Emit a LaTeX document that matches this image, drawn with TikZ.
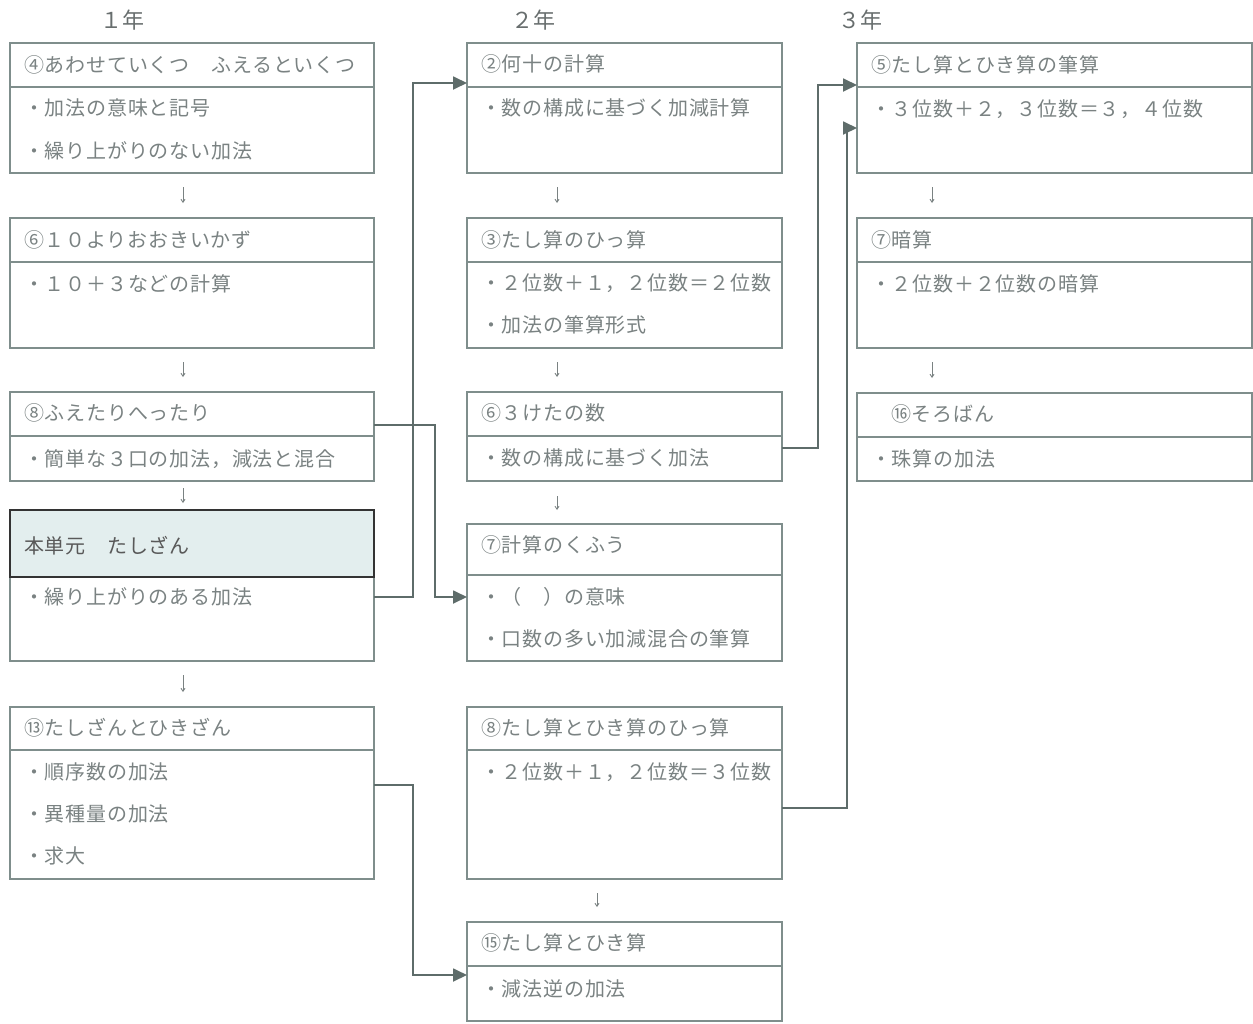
\documentclass[tikz,border=0pt]{standalone}
\usepackage{fontspec}
\setmainfont{Noto Sans CJK JP}
\newfontfamily\jpsp[LetterSpace=4]{Noto Sans CJK JP}
\usetikzlibrary{arrows.meta,calc}
\definecolor{boxc}{HTML}{7F8E8C}
\definecolor{txtc}{HTML}{7A8282}
\definecolor{conc}{HTML}{5E6C6A}
\definecolor{hifill}{HTML}{E3EEEE}
\tikzset{
  bx/.style 2 args={draw=boxc, line width=1.4pt, anchor=north west, inner sep=0pt, outer sep=0pt, rectangle, minimum width=#1, minimum height=#2},
  tx/.style={anchor=west, inner sep=0pt, text=txtc, font=\jpsp\fontsize{20}{22}\selectfont},
  ttl/.style={anchor=west, inner sep=0pt, text=txtc!85!black, font=\fontsize{22}{24}\selectfont},
  conn/.style={draw=conc, line width=1.8pt, -{Triangle[length=14pt,width=13pt]}},
  tick/.style={draw=txtc, line width=0.9pt, -{Straight Barb[length=3pt,width=4pt]}, shorten <=14pt, shorten >=15pt}
}
\begin{document}
\begin{tikzpicture}[x=1pt,y=-1pt]
\useasboundingbox (0,0) rectangle (1253,1023);
% titles
\node[ttl] (y1) at (100,20) {１年};
\node[ttl] (y2) at (511,20) {２年};
\node[ttl] (y3) at (838,20) {３年};
% ---------- column 1 ----------
\node[bx={364}{86}] (bA) at (10,87) {};
\node[bx={364}{44}] (hA) at (10,43) {};
\node[tx] (tA0) at (24,65) {④あわせていくつ　ふえるといくつ};
\node[tx] (tA1) at (24,108) {・加法の意味と記号};
\node[tx] (tA2) at (24,151) {・繰り上がりのない加法};

\node[bx={364}{86}] (bB) at (10,262) {};
\node[bx={364}{44}] (hB) at (10,218) {};
\node[tx] (tB0) at (24,240) {⑥１０よりおおきいかず};
\node[tx] (tB1) at (24,284) {・１０＋３などの計算};

\node[bx={364}{45}] (bC) at (10,436) {};
\node[bx={364}{44}] (hC) at (10,392) {};
\node[tx] (tC0) at (24,413) {⑧ふえたりへったり};
\node[tx] (tC1) at (24,459) {・簡単な３口の加法，減法と混合};

\node[bx={364}{84}] (bD) at (10,577) {};
\node[bx={364}{67}, fill=hifill, draw=black!80, line width=2.4pt] (hD) at (10,510) {};
\node[tx, text=black!65] (tD0) at (24,546) {本単元　たしざん};
\node[tx] (tD1) at (24,597) {・繰り上がりのある加法};

\node[bx={364}{129}] (bE) at (10,750) {};
\node[bx={364}{43}] (hE) at (10,707) {};
\node[tx] (tE0) at (24,728) {⑬たしざんとひきざん};
\node[tx] (tE1) at (24,772) {・順序数の加法};
\node[tx] (tE2) at (24,814) {・異種量の加法};
\node[tx] (tE3) at (24,856) {・求大};

% ---------- column 2 ----------
\node[bx={315}{86}] (bF) at (467,87) {};
\node[bx={315}{44}] (hF) at (467,43) {};
\node[tx] (tF0) at (481,64) {②何十の計算};
\node[tx] (tF1) at (481,108) {・数の構成に基づく加減計算};

\node[bx={315}{86}] (bG) at (467,262) {};
\node[bx={315}{44}] (hG) at (467,218) {};
\node[tx] (tG0) at (481,240) {③たし算のひっ算};
\node[tx] (tG1) at (481,283) {・２位数＋１，２位数＝２位数};
\node[tx] (tG2) at (481,325) {・加法の筆算形式};

\node[bx={315}{45}] (bH) at (467,436) {};
\node[bx={315}{44}] (hH) at (467,392) {};
\node[tx] (tH0) at (481,413) {⑥３けたの数};
\node[tx] (tH1) at (481,458) {・数の構成に基づく加法};

\node[bx={315}{86}] (bI) at (467,575) {};
\node[bx={315}{51}] (hI) at (467,524) {};
\node[tx] (tI0) at (481,545) {⑦計算のくふう};
\node[tx] (tI1) at (481,597) {・（　）の意味};
\node[tx] (tI2) at (481,639) {・口数の多い加減混合の筆算};

\node[bx={315}{129}] (bJ) at (467,750) {};
\node[bx={315}{43}] (hJ) at (467,707) {};
\node[tx] (tJ0) at (481,728) {⑧たし算とひき算のひっ算};
\node[tx] (tJ1) at (481,772) {・２位数＋１，２位数＝３位数};

\node[bx={315}{55}] (bK) at (467,966) {};
\node[bx={315}{44}] (hK) at (467,922) {};
\node[tx] (tK0) at (481,943) {⑮たし算とひき算};
\node[tx] (tK1) at (481,989) {・減法逆の加法};

% ---------- column 3 ----------
\node[bx={395}{86}] (bL) at (857,87) {};
\node[bx={395}{44}] (hL) at (857,43) {};
\node[tx] (tL0) at (871,65) {⑤たし算とひき算の筆算};
\node[tx] (tL1) at (871,109) {・３位数＋２，３位数＝３，４位数};

\node[bx={395}{86}] (bM) at (857,262) {};
\node[bx={395}{44}] (hM) at (857,218) {};
\node[tx] (tM0) at (871,240) {⑦暗算};
\node[tx] (tM1) at (871,284) {・２位数＋２位数の暗算};

\node[bx={395}{44}] (bN) at (857,437) {};
\node[bx={395}{44}] (hN) at (857,393) {};
\node[tx] (tN0) at (891,414) {⑯そろばん};
\node[tx] (tN1) at (871,459) {・珠算の加法};

% ---------- small down ticks ----------
\draw[tick] ($(bA.south west)+(173,0)$) -- ($(hB.north west)+(173,0)$);
\draw[tick] ($(bB.south west)+(173,0)$) -- ($(hC.north west)+(173,0)$);
\draw[tick, shorten <=7pt, shorten >=7pt] ($(bC.south west)+(173,0)$) -- ($(hD.north west)+(173,0)$);
\draw[tick] ($(bD.south west)+(173,0)$) -- ($(hE.north west)+(173,0)$);
\draw[tick] ($(bF.south west)+(90,0)$) -- ($(hG.north west)+(90,0)$);
\draw[tick] ($(bG.south west)+(90,0)$) -- ($(hH.north west)+(90,0)$);
\draw[tick, shorten <=15pt, shorten >=14pt] ($(bH.south west)+(90,0)$) -- ($(hI.north west)+(90,0)$);
\draw[tick] ($(bJ.south west)+(130,0)$) -- ($(hK.north west)+(130,0)$);
\draw[tick] ($(bL.south west)+(75,0)$) -- ($(hM.north west)+(75,0)$);
\draw[tick] ($(bM.south west)+(75,0)$) -- ($(hN.north west)+(75,0)$);

% ---------- connectors ----------
\draw[conn] (bD.east |- tD1) -- ++(39,0) |- ($(hF.south west)+(0,-4)$);
\draw[conn] ($(bC.north east)+(0,-11)$) -- ++(61,0) |- (bI.west |- tI1);
\draw[conn] ($(bE.north east)+(0,35)$) -- ++(39,0) |- ($(bK.north west)+(0,9)$);
\draw[conn] ($(bH.north east)+(0,12)$) -- ++(36,0) |- ($(bL.north west)+(0,-2)$);
\draw[conn] ($(bJ.north east)+(0,58)$) -- ++(65,0) |- ($(bL.north west)+(0,41)$);
\end{tikzpicture}
\end{document}
